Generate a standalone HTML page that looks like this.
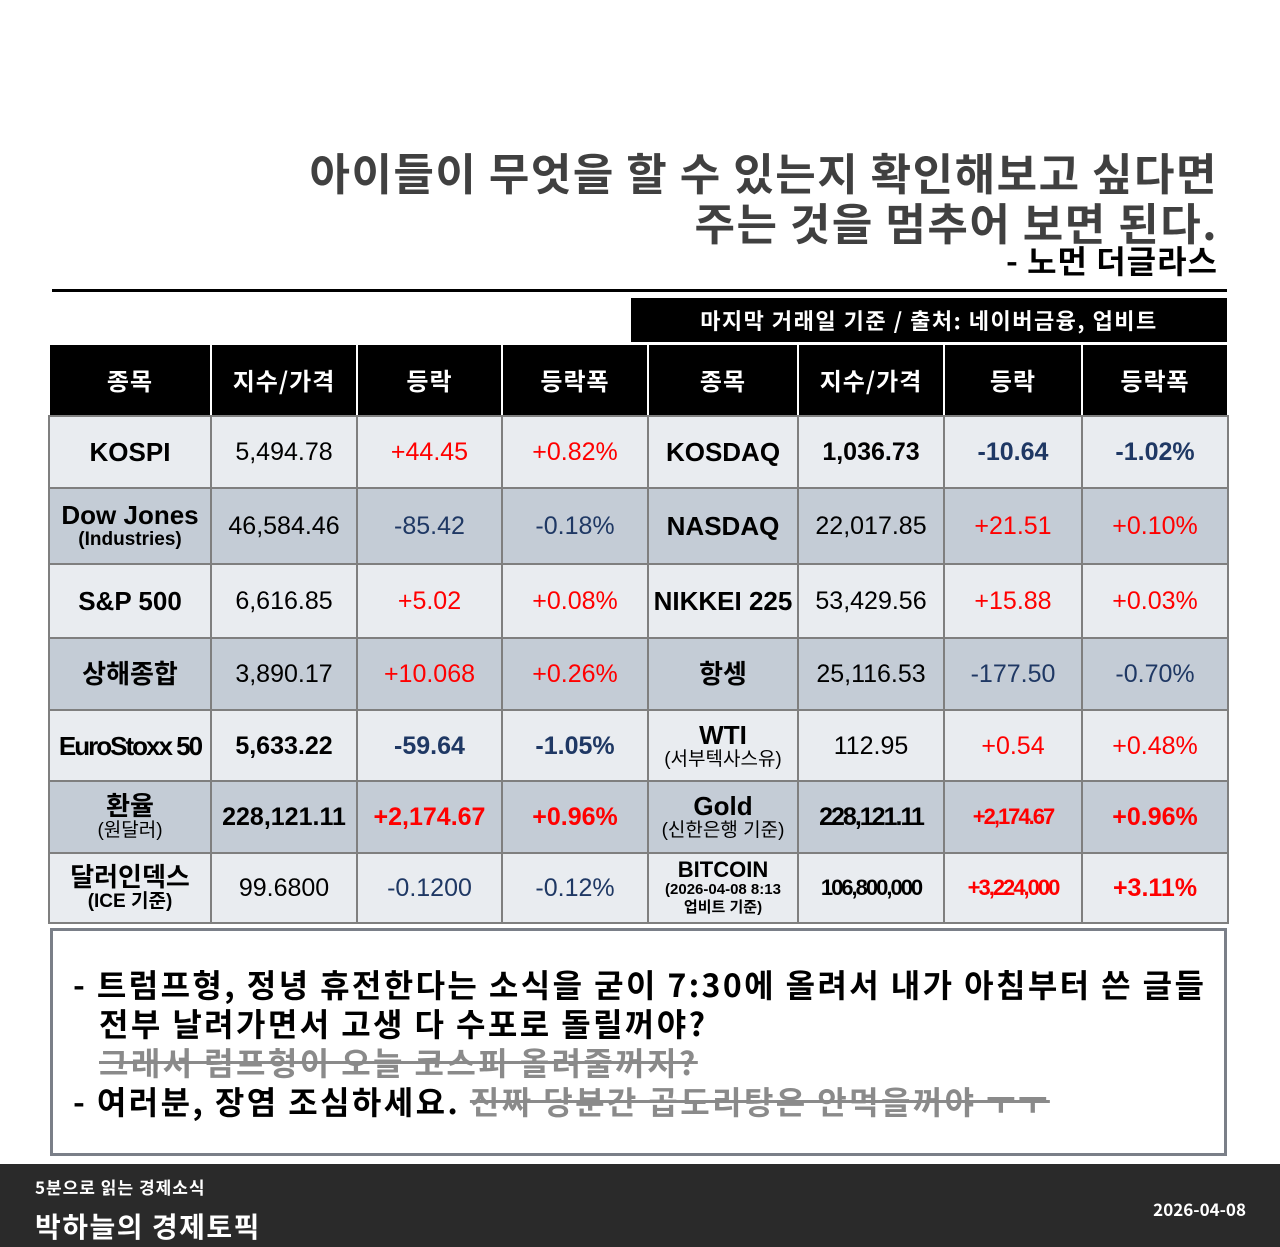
<!DOCTYPE html>
<html><head><meta charset="utf-8">
<style>
body{margin:0;width:1280px;height:1247px;background:#fff;position:relative;overflow:hidden;font-family:"Liberation Sans","Noto Sans CJK KR",sans-serif;}
.title{position:absolute;right:62px;top:146px;text-align:right;font-weight:bold;color:#404040;font-size:44px;line-height:50px;letter-spacing:1.5px;font-family:"Noto Sans CJK KR","NanumGothic",sans-serif;}
.author{position:absolute;right:62px;top:240px;font-weight:bold;font-size:32px;color:#000;font-family:"Noto Sans CJK KR",sans-serif;line-height:40px;letter-spacing:1px}
.rule{position:absolute;left:52px;top:289px;width:1175px;height:3px;background:#000}
.src{position:absolute;left:631px;top:298px;width:596px;height:44px;background:#000;color:#fff;font-weight:bold;font-size:22px;line-height:44px;text-align:center;letter-spacing:1.5px;font-family:"Noto Sans CJK KR",sans-serif}
table{position:absolute;left:48px;top:343px;border-collapse:collapse;table-layout:fixed}
td,th{text-align:center;border:2px solid #7f7f7f;padding:0;font-size:25px;color:#000;font-family:"Liberation Sans","Noto Sans CJK KR",sans-serif;line-height:28px}
th{background:#000;color:#fff;height:70px;font-family:"Noto Sans CJK KR",sans-serif;font-size:24px;border-color:#fff #fff #7f7f7f #fff;letter-spacing:1px}
tr.l td{background:#e9ecf0} tr.d td{background:#c4ccd6}
td.n{font-weight:bold;font-size:26px}
.s{font-size:19px;display:block;line-height:22px}
.r{color:#f00}.b{color:#1f3864}.bo{font-weight:bold}
.note{position:absolute;left:50px;top:928px;width:1171px;height:222px;border:3px solid #7a7f88;font-family:"Noto Sans CJK KR",sans-serif;font-weight:bold;font-size:32px;line-height:39px;color:#000;letter-spacing:2.4px}
.note p{margin:0;padding-left:46px;text-indent:-26px}
.st{color:#8a8a8a;text-decoration:line-through}
.foot{position:absolute;left:0;top:1164px;width:1280px;height:83px;background:#2a2a2a;color:#fff;font-family:"Noto Sans CJK KR",sans-serif;font-weight:bold}
</style></head><body>
<div class="title">아이들이 무엇을 할 수 있는지 확인해보고 싶다면<br>주는 것을 멈추어 보면 된다.</div>
<div class="author">- 노먼 더글라스</div>
<div class="rule"></div>
<div class="src">마지막 거래일 기준 / 출처: 네이버금융, 업비트</div>
<table>
<colgroup><col style="width:162px"><col style="width:146px"><col style="width:145px"><col style="width:146px"><col style="width:150px"><col style="width:146px"><col style="width:138px"><col style="width:146px"></colgroup>
<tr><th>종목</th><th>지수/가격</th><th>등락</th><th>등락폭</th><th>종목</th><th>지수/가격</th><th>등락</th><th>등락폭</th></tr>
<tr class="l" style="height:72px"><td class="n">KOSPI</td><td>5,494.78</td><td class="r">+44.45</td><td class="r">+0.82%</td><td class="n">KOSDAQ</td><td class="bo">1,036.73</td><td class="b bo">-10.64</td><td class="b bo">-1.02%</td></tr>
<tr class="d" style="height:76px"><td class="n">Dow Jones<span class="s">(Industries)</span></td><td>46,584.46</td><td class="b">-85.42</td><td class="b">-0.18%</td><td class="n">NASDAQ</td><td>22,017.85</td><td class="r">+21.51</td><td class="r">+0.10%</td></tr>
<tr class="l" style="height:74px"><td class="n">S&amp;P 500</td><td>6,616.85</td><td class="r">+5.02</td><td class="r">+0.08%</td><td class="n">NIKKEI 225</td><td>53,429.56</td><td class="r">+15.88</td><td class="r">+0.03%</td></tr>
<tr class="d" style="height:72px"><td class="n">상해종합</td><td>3,890.17</td><td class="r">+10.068</td><td class="r">+0.26%</td><td class="n">항셍</td><td>25,116.53</td><td class="b">-177.50</td><td class="b">-0.70%</td></tr>
<tr class="l" style="height:71px"><td class="n" style="letter-spacing:-2px">EuroStoxx 50</td><td class="bo">5,633.22</td><td class="b bo">-59.64</td><td class="b bo">-1.05%</td><td class="n">WTI<span class="s" style="font-weight:normal">(서부텍사스유)</span></td><td>112.95</td><td class="r">+0.54</td><td class="r">+0.48%</td></tr>
<tr class="d" style="height:72px"><td class="n">환율<span class="s" style="font-weight:normal">(원달러)</span></td><td class="bo">228,121.11</td><td class="r bo">+2,174.67</td><td class="r bo">+0.96%</td><td class="n">Gold<span class="s" style="font-weight:normal">(신한은행 기준)</span></td><td class="bo" style="letter-spacing:-2px">228,121.11</td><td class="r bo" style="font-size:22px;letter-spacing:-2px">+2,174.67</td><td class="r bo">+0.96%</td></tr>
<tr class="l" style="height:70px"><td class="n">달러인덱스<span class="s">(ICE 기준)</span></td><td>99.6800</td><td class="b">-0.1200</td><td class="b">-0.12%</td><td class="n" style="font-size:22px;line-height:22px">BITCOIN<span class="s" style="font-size:15px;line-height:18px">(2026-04-08 8:13<br>업비트 기준)</span></td><td class="bo" style="font-size:22px;letter-spacing:-2px">106,800,000</td><td class="r bo" style="font-size:22px;letter-spacing:-2px">+3,224,000</td><td class="r bo">+3.11%</td></tr>
</table>
<div class="note"><div style="padding-top:34px">
<p>- 트럼프형, 정녕 휴전한다는 소식을 굳이 7:30에 올려서 내가 아침부터 쓴 글들<br>전부 날려가면서 고생 다 수포로 돌릴꺼야?<br><span class="st">그래서 럼프형이 오늘 코스피 올려줄꺼지?</span></p>
<p>- 여러분, 장염 조심하세요. <span class="st">진짜 당분간 곱도리탕은 안먹을꺼야 ㅜㅜ</span></p></div></div>
<div class="foot">
<div style="position:absolute;left:35px;top:10px;font-size:17px;letter-spacing:1px">5분으로 읽는 경제소식</div>
<div style="position:absolute;left:35px;top:42px;font-size:28px;letter-spacing:1.5px">박하늘의 경제토픽</div>
<div style="position:absolute;right:34px;top:32px;font-size:17px">2026-04-08</div>
</div>
</body></html>
